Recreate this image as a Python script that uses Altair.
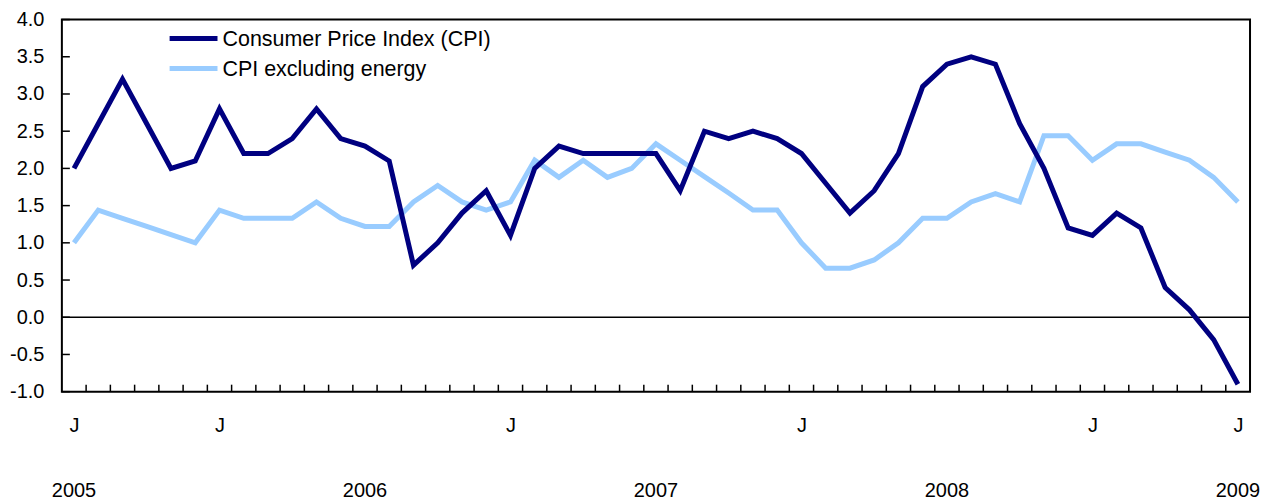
import altair as alt
import pandas as pd

# Monthly index: 0 = Jan 2005 ... 48 = Jan 2009
month_index = list(range(49))

cpi = [2.0, 2.6, 3.2, 2.6, 2.0, 2.1, 2.8, 2.2, 2.2, 2.4, 2.8, 2.4,
       2.3, 2.1, 0.7, 1.0, 1.4, 1.7, 1.1, 2.0, 2.3, 2.2, 2.2, 2.2,
       2.2, 1.7, 2.5, 2.4, 2.5, 2.4, 2.2, 1.8, 1.4, 1.7, 2.2, 3.1,
       3.4, 3.5, 3.4, 2.6, 2.0, 1.2, 1.1, 1.4, 1.2, 0.4, 0.1, -0.3,
       -0.9]

cpi_ex_energy = [1.0, 1.44, 1.33, 1.22, 1.11, 1.0, 1.44, 1.33, 1.33, 1.33, 1.55, 1.33,
                 1.22, 1.22, 1.55, 1.77, 1.55, 1.44, 1.55, 2.11, 1.88, 2.11, 1.88, 2.0,
                 2.33, 2.11, 1.89, 1.67, 1.44, 1.44, 1.0, 0.66, 0.66, 0.77, 1.0, 1.33,
                 1.33, 1.55, 1.66, 1.55, 2.44, 2.44, 2.11, 2.33, 2.33, 2.22, 2.11, 1.88,
                 1.55]

series_names = ["Consumer Price Index (CPI)", "CPI excluding energy"]
series_colors = ["#000080", "#99CCFF"]

month_label_pos = [0, 6, 18, 30, 42, 48]
year_labels = ["2005", "2006", "2007", "2008", "2009"]
year_label_pos = [0, 12, 24, 36, 48]

y_ticks = [-1.0, -0.5, 0.0, 0.5, 1.0, 1.5, 2.0, 2.5, 3.0, 3.5, 4.0]
x_tick_pos = [i + 0.5 for i in range(48)]

df = pd.DataFrame({
    "idx": month_index * 2,
    "value": cpi + cpi_ex_energy,
    "series": [series_names[0]] * 49 + [series_names[1]] * 49,
})

W, H = 1191, 373
FONT = "Liberation Sans"

x_scale = alt.Scale(domain=[-0.5, 48.5], nice=False, zero=False)
y_scale = alt.Scale(domain=[-1, 4], nice=False, zero=False)

x_axis = alt.Axis(values=month_label_pos, labelExpr="'J'", ticks=False, tickSize=0,
                  domain=False, grid=False, labelFontSize=20, labelPadding=34,
                  labelBaseline="middle", labelColor="black", title=None,
                  labelFont=FONT, labelFlush=False, labelOverlap=False)
y_axis = alt.Axis(values=y_ticks,
                  labelExpr="replace(format(datum.value, '.1f'), '\u2212', '-')",
                  ticks=False, tickSize=0, domain=False, grid=False,
                  labelFontSize=20, labelPadding=18, labelColor="black",
                  title=None, labelFont=FONT, labelOverlap=False)

X = alt.X("idx:Q", scale=x_scale, axis=x_axis)
Y = alt.Y("value:Q", scale=y_scale, axis=y_axis)

# draw light first, dark on top
light = alt.Chart(df[df["series"] == series_names[1]]).mark_line(
    strokeWidth=5, color=series_colors[1]).encode(x=X, y=Y)
dark = alt.Chart(df[df["series"] == series_names[0]]).mark_line(
    strokeWidth=5, color=series_colors[0]).encode(x=X, y=Y)

zero = alt.Chart(pd.DataFrame({"value": [0.0]})).mark_rule(color="black", strokeWidth=1.5).encode(y=Y)

xticks = alt.Chart(pd.DataFrame({"idx": x_tick_pos})).mark_rule(color="black", strokeWidth=1.5).encode(
    x=X, y=alt.value(H), y2=alt.value(H - 7))

yticks = alt.Chart(pd.DataFrame({"value": y_ticks})).mark_rule(color="black", strokeWidth=1.5).encode(
    y=Y, x=alt.value(0), x2=alt.value(8))

years = alt.Chart(pd.DataFrame({"idx": year_label_pos, "label": year_labels})).mark_text(
    fontSize=20, font=FONT, baseline="middle", align="center", color="black").encode(
    x=X, y=alt.value(H + 100), text="label:N")

# manual legend
leg_dark_line = alt.Chart(pd.DataFrame({"s": [series_names[0]]})).mark_rule(
    color=series_colors[0], strokeWidth=5).encode(x=alt.value(108), x2=alt.value(156), y=alt.value(19))
leg_light_line = alt.Chart(pd.DataFrame({"s": [series_names[1]]})).mark_rule(
    color=series_colors[1], strokeWidth=5).encode(x=alt.value(108), x2=alt.value(156), y=alt.value(49))
leg_dark_text = alt.Chart(pd.DataFrame({"s": [series_names[0]]})).mark_text(
    fontSize=21.5, font=FONT, align="left", baseline="middle", color="black").encode(
    x=alt.value(161), y=alt.value(21), text="s:N")
leg_light_text = alt.Chart(pd.DataFrame({"s": [series_names[1]]})).mark_text(
    fontSize=21.5, font=FONT, align="left", baseline="middle", color="black").encode(
    x=alt.value(161), y=alt.value(51), text="s:N")

chart = alt.layer(
    zero, xticks, yticks, light, dark, years,
    leg_dark_line, leg_light_line, leg_dark_text, leg_light_text,
).properties(
    width=W, height=H,
    autosize=alt.AutoSizeParams(type="none"),
    padding={"left": 54, "top": 11, "right": 10, "bottom": 110},
).configure(
    font=FONT, background="white"
).configure_view(
    stroke="black", strokeWidth=2
)

chart.save("out.html", embed_options={"renderer": "svg", "actions": False})
